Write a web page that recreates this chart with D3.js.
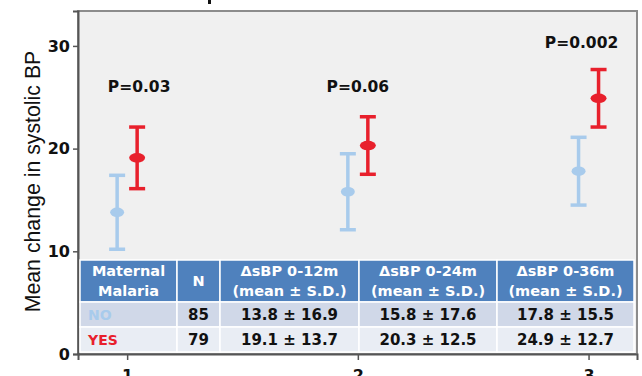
<!DOCTYPE html>
<html><head><meta charset="utf-8">
<script src="https://cdn.jsdelivr.net/npm/d3@7"></script>
<style>html,body{margin:0;padding:0;background:#fff;}svg{display:block;}</style>
</head><body>
<svg id="chart" width="642" height="376"></svg>
<script>
// ---- data ----
const categories = [1, 2, 3];
const noMean  = [13.8, 15.8, 17.8];
const noLow   = [10.2, 12.1, 14.5];
const noHigh  = [17.4, 19.5, 21.1];
const yesMean = [19.1, 20.3, 24.9];
const yesLow  = [16.1, 17.5, 22.1];
const yesHigh = [22.1, 23.1, 27.7];
const pLabels = ["P=0.03", "P=0.06", "P=0.002"];
const pValuesY = [25.5, 25.5, 29.8];
const yTicks = [0, 10, 20, 30];
const tableHeader = [["Maternal", "Malaria"], ["N"], ["\u0394sBP 0-12m", "(mean \u00b1 S.D.)"], ["\u0394sBP 0-24m", "(mean \u00b1 S.D.)"], ["\u0394sBP 0-36m", "(mean \u00b1 S.D.)"]];
const rowNo  = ["NO", "85", "13.8 \u00b1 16.9", "15.8 \u00b1 17.6", "17.8 \u00b1 15.5"];
const rowYes = ["YES", "79", "19.1 \u00b1 13.7", "20.3 \u00b1 12.5", "24.9 \u00b1 12.7"];

// ---- layout ----
const svg = d3.select("#chart");
const L = 78, R = 637, T = 11, B = 354;
const x = d3.scaleLinear().domain([0.787, 3.21]).range([L, R]);
const y = d3.scaleLinear().domain([0, 33.4]).range([B, T]);
const FONT = "'DejaVu Sans', Verdana, sans-serif";
const blue = "#a8cbec", red = "#e8202c";

svg.append("rect").attr("x", L).attr("y", T).attr("width", R - L).attr("height", B - T)
  .attr("fill", "#f0f0f0").attr("stroke", "#8c8c8c").attr("stroke-width", 2);

// cut-off title fragment mark
svg.append("rect").attr("x", 208).attr("y", 0).attr("width", 3).attr("height", 4).attr("fill", "#111");

// axes
const ya = svg.append("g").attr("transform", `translate(${L},0)`)
  .call(d3.axisLeft(y).tickValues(yTicks).tickSize(5).tickPadding(3));
ya.select(".domain").attr("stroke", "#555").attr("stroke-width", 2);
ya.selectAll(".tick line").attr("stroke", "#555").attr("stroke-width", 1.5);
ya.selectAll("text").attr("font-family", FONT).attr("font-weight", "bold")
  .attr("font-size", 16).attr("fill", "#111");

const xa = svg.append("g").attr("transform", `translate(0,${B})`)
  .call(d3.axisBottom(x).tickValues(categories).tickFormat(d3.format("d")).tickSize(6).tickPadding(10));
xa.select(".domain").attr("stroke", "#555").attr("stroke-width", 2);
xa.selectAll(".tick line").attr("stroke", "#555").attr("stroke-width", 1.5);
xa.selectAll("text").attr("font-family", FONT).attr("font-weight", "bold")
  .attr("font-size", 16).attr("fill", "#111");

// y label
svg.append("text").attr("transform", `translate(40,${(50 + 313) / 2}) rotate(-90)`)
  .attr("text-anchor", "middle").attr("font-family", "'Liberation Sans', Arial, sans-serif").attr("font-size", 21.3)
  .attr("fill", "#111").text("Mean change in systolic BP");

// error bars
const series = [
  {mean: noMean, low: noLow, high: noHigh, color: blue, off: -10, rx: 7},
  {mean: yesMean, low: yesLow, high: yesHigh, color: red, off: 10, rx: 8}
];
const capW = 8;
series.forEach(s => {
  const g = svg.append("g");
  categories.forEach((c, i) => {
    const cx = x(c) + s.off;
    g.append("line").attr("x1", cx).attr("x2", cx).attr("y1", y(s.low[i])).attr("y2", y(s.high[i]))
      .attr("stroke", s.color).attr("stroke-width", 3.5);
    [s.low[i], s.high[i]].forEach(v => {
      g.append("line").attr("x1", cx - capW).attr("x2", cx + capW).attr("y1", y(v)).attr("y2", y(v))
        .attr("stroke", s.color).attr("stroke-width", 3.5);
    });
    g.append("ellipse").attr("cx", cx).attr("cy", y(s.mean[i])).attr("rx", s.rx).attr("ry", 4.8)
      .attr("fill", s.color);
  });
});

// p labels
categories.forEach((c, i) => {
  svg.append("text").attr("x", x(c) + (i === 2 ? -7 : (i === 0 ? 12 : 0))).attr("y", y(pValuesY[i]))
    .attr("text-anchor", "middle").attr("font-family", FONT).attr("font-weight", "bold")
    .attr("font-size", 15.5).attr("fill", "#111").text(pLabels[i]);
});

// table
const colEdges = [80, 177, 220, 359, 497, 634];
const rowEdges = [260, 302, 327, 352];
const tg = svg.append("g");
const rowFills = ["#4f81bd", "#d0d8e8", "#e9edf4"];
for (let r = 0; r < 3; r++) {
  for (let c = 0; c < 5; c++) {
    tg.append("rect").attr("x", colEdges[c]).attr("y", rowEdges[r])
      .attr("width", colEdges[c + 1] - colEdges[c]).attr("height", rowEdges[r + 1] - rowEdges[r])
      .attr("fill", rowFills[r]).attr("stroke", "#ffffff").attr("stroke-width", 1.5);
  }
}
tableHeader.forEach((lines, c) => {
  const cx = (colEdges[c] + colEdges[c + 1]) / 2;
  const mid = (rowEdges[0] + rowEdges[1]) / 2;
  lines.forEach((t, k) => {
    const yy = lines.length === 1 ? mid : mid + (k === 0 ? -10 : 10);
    tg.append("text").attr("x", cx).attr("y", yy).attr("dy", "0.36em")
      .attr("text-anchor", "middle").attr("font-family", FONT).attr("font-weight", "bold")
      .attr("font-size", 14.5).attr("fill", "#ffffff").text(t);
  });
});
[[rowNo, blue], [rowYes, red]].forEach(([row, col], r) => {
  const mid = (rowEdges[r + 1] + rowEdges[r + 2]) / 2;
  row.forEach((t, c) => {
    const first = c === 0;
    tg.append("text").attr("x", first ? 88 : (colEdges[c] + colEdges[c + 1]) / 2)
      .attr("y", mid).attr("dy", "0.36em")
      .attr("text-anchor", first ? "start" : "middle").attr("font-family", FONT)
      .attr("font-weight", "bold").attr("font-size", first ? 14 : 15)
      .attr("fill", first ? col : "#111").text(t);
  });
});
</script>
</body></html>
